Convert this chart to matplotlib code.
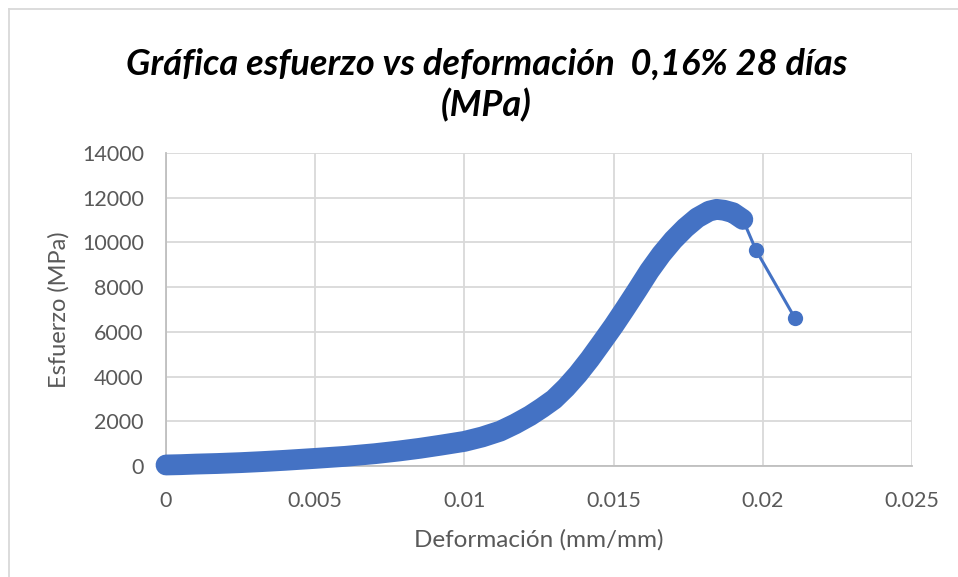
import matplotlib
matplotlib.use("Agg")
import matplotlib.pyplot as plt
from matplotlib.lines import Line2D

plt.rcParams['font.family'] = ['Lato', 'DejaVu Sans']

# Strain (mm/mm) and stress (MPa) readings
deformacion = [0.0000, 0.0005, 0.0010, 0.0017, 0.0025, 0.0032, 0.0040, 0.0050,
               0.0060, 0.0070, 0.0078, 0.0085, 0.0092, 0.0100, 0.0106, 0.0112,
               0.0117, 0.0122, 0.0126, 0.0130, 0.0134, 0.0138, 0.0142, 0.0146,
               0.0150, 0.0154, 0.0158, 0.0162, 0.0166, 0.0170, 0.0174, 0.0178,
               0.0182, 0.01845, 0.0187, 0.0190, 0.01933, 0.01977, 0.02108]
esfuerzo = [45, 60, 85, 110, 150, 195, 255, 340,
            430, 550, 670, 790, 930, 1100, 1300, 1560,
            1880, 2250, 2600, 2980, 3500, 4100, 4780, 5520,
            6270, 7070, 7890, 8730, 9470, 10110, 10650, 11100,
            11400, 11480, 11440, 11330, 11030, 9660, 6605]

# Number of readings belonging to the densely sampled loading branch
n_denso = 37

x_ticks = [0, 0.005, 0.01, 0.015, 0.02, 0.025]
x_tick_labels = ['0', '0.005', '0.01', '0.015', '0.02', '0.025']
y_ticks = [0, 2000, 4000, 6000, 8000, 10000, 12000, 14000]

titulo = 'Gráfica esfuerzo vs deformación  0,16% 28 días\n(MPa)'
etiqueta_x = 'Deformación (mm/mm)'
etiqueta_y = 'Esfuerzo (MPa)'

azul = '#4472C4'
gris_texto = '#595959'

fig = plt.figure(figsize=(9.58, 5.77), dpi=100)
ax = fig.add_axes([0.1733, 0.1924, 0.9520 - 0.1733, 0.7348 - 0.1924])

# Dense branch: continuous band of markers
ax.plot(deformacion[:n_denso], esfuerzo[:n_denso], color=azul, lw=15,
        solid_capstyle='round', solid_joinstyle='round', zorder=3,
        clip_on=False)
# All readings with markers and thin connecting line
ax.plot(deformacion, esfuerzo, color=azul, lw=2.2, marker='o', ms=11,
        markeredgewidth=0, zorder=4, clip_on=False)

ax.set_xlim(0, 0.025)
ax.set_ylim(0, 14000)
ax.set_xticks(x_ticks)
ax.set_xticklabels(x_tick_labels)
ax.set_yticks(y_ticks)
ax.set_yticklabels([str(v) for v in y_ticks])

ax.grid(True, color='#d9d9d9', lw=1.3)
ax.set_axisbelow(True)
for s in ['top', 'right']:
    ax.spines[s].set_visible(False)
for s in ['left', 'bottom']:
    ax.spines[s].set_color('#bfbfbf')
    ax.spines[s].set_linewidth(1.3)
ax.tick_params(axis='both', length=0, labelsize=15.5, labelcolor=gris_texto)
ax.tick_params(axis='x', pad=18)
ax.tick_params(axis='y', pad=16)

ax.set_xlabel(etiqueta_x, fontsize=17.5, color=gris_texto, labelpad=13)
ax.set_ylabel(etiqueta_y, fontsize=17, color=gris_texto, labelpad=9)

fig.text(0.508, 0.852, titulo, ha='center', va='center', fontsize=26,
         fontweight='bold', fontstyle='italic', color='black', linespacing=1.25)

# Chart-area frame (top and left edges)
fig.add_artist(Line2D([9 / 958, 1], [1 - 9 / 577, 1 - 9 / 577],
                      transform=fig.transFigure, color='#d9d9d9', lw=1.3))
fig.add_artist(Line2D([9 / 958, 9 / 958], [0, 1 - 9 / 577],
                      transform=fig.transFigure, color='#d9d9d9', lw=1.3))

fig.savefig('out.png', dpi=100)
